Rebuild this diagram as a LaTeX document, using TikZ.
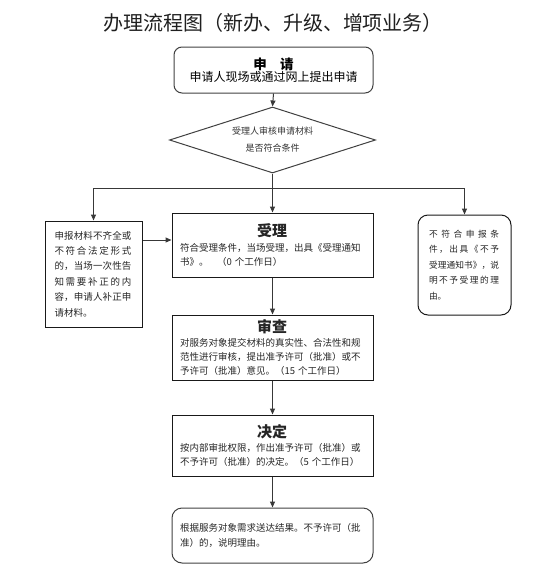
\documentclass[tikz,border=0pt]{standalone}
\usepackage{fontspec}
\setmainfont{Noto Sans CJK SC}
\usetikzlibrary{shapes.geometric,arrows.meta}
\makeatletter
\def\jlfirst#1{#1\jlrest}
\def\jlrest#1{\ifx#1\relax\else\hfil#1\expandafter\jlrest\fi}
\newcommand\jl[2]{\makebox[#1][s]{\jlfirst#2\relax}}
\makeatother
\newcommand\headtxt[1]{\makebox[184pt][c]{\fontsize{15}{15}\selectfont\bfseries #1}}
\tikzset{
  conn/.style={draw=black!78,line width=1pt},
  arr/.style={conn,-{Triangle[length=6pt,width=5pt]}},
  procbox/.style={draw=black!90,line width=1pt,inner sep=0pt,minimum width=201pt,
    text width=185pt,align=left,font=\fontsize{9.5}{14.2}\selectfont,text=black!85},
  sidebox/.style={draw=black!90,line width=1pt,inner sep=0pt,align=left,text=black!85},
}
\begin{document}
\begin{tikzpicture}[x=1pt,y=-1pt]
\useasboundingbox (0,0) rectangle (550,571);
\node[font=\fontsize{20}{20}\selectfont,text=black!88] (title) at (273,23) {办理流程图（新办、升级、增项业务）};
\node[draw=black!75,line width=1pt,rounded corners=8pt,minimum width=199pt,minimum height=46pt,inner sep=0pt,align=center] (app) at (273.5,70)
  {{\fontsize{13.5}{13.5}\selectfont\bfseries 申\hspace{1em}请}\\[0pt]{\fontsize{12}{13}\selectfont 申请人现场或通过网上提出申请}};
\node[diamond,draw=black!75,line width=1pt,aspect=3.1,inner sep=0pt,minimum width=206pt,minimum height=66pt,align=center,
  font=\fontsize{9}{17}\selectfont,text=black!80] (dia) at (272.5,140) {受理人审核申请材料\\是否符合条件};
\coordinate (br) at (272.5,188);
\node[sidebox,minimum width=97pt,minimum height=106pt,text width=78pt,font=\fontsize{9.5}{15.4}\selectfont] (left) at (93.5,274)
  {\jl{77pt}{申报材料不齐全或}\\\jl{77pt}{不符合法定形式}\\\jl{77pt}{的，当场一次性告}\\\jl{77pt}{知需要补正的内}\\\jl{77pt}{容，申请人补正申}\\请材料。};
\node[sidebox,rounded corners=10pt,minimum width=93pt,minimum height=100pt,text width=71pt,font=\fontsize{8.7}{15.5}\selectfont] (right) at (464.5,265)
  {\jl{70pt}{不符合申报条}\\\jl{70pt}{件，出具《不予}\\\jl{70pt}{受理通知书》，说}\\\jl{70pt}{明不予受理的理}\\由。};
\node[procbox,minimum height=64pt] (acc) at (272.5,245)
  {\headtxt{受理}\\符合受理条件，当场受理，出具《受理通知\\书》。\hspace{0.9em}（0 个工作日）};
\node[procbox,minimum height=65pt] (rev) at (272.5,347.5)
  {\headtxt{审查}\\对服务对象提交材料的真实性、合法性和规\\范性进行审核，提出准予许可（批准）或不\\予许可（批准）意见。（15 个工作日）};
\node[procbox,minimum height=61pt] (dec) at (272.5,445.5)
  {\headtxt{决定}\\按内部审批权限，作出准予许可（批准）或\\不予许可（批准）的决定。（5 个工作日）};
\node[procbox,draw=black!75,rounded corners=10pt,minimum height=55pt] (res) at (272.5,535.5)
  {根据服务对象需求送达结果。不予许可（批\\准）的，说明理由。};
\draw[arr] (app.south) -- (dia.north);
\draw[conn] (dia.south) -- (br);
\draw[arr] (br) -- (acc.north);
\draw[arr] (br) -| (left.north);
\draw[arr] (br) -| (right.north);
\draw[arr] (left.east |- 0,240) -- (acc.west |- 0,240);
\draw[arr] (acc.south) -- (rev.north);
\draw[arr] (rev.south) -- (dec.north);
\draw[arr] (dec.south) -- (res.north);
\end{tikzpicture}
\end{document}
